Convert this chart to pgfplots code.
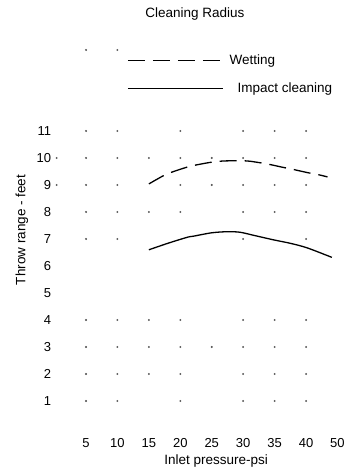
\documentclass[border=0pt]{standalone}
\usepackage{pgfplots}
\pgfplotsset{compat=1.18}
\usepackage{fontspec}
\setmainfont{Liberation Sans}
\newcommand{\cf}{\fontsize{13.5bp}{16bp}\selectfont}
\newcommand{\tf}{\fontsize{13bp}{15bp}\selectfont}
\pgfplotsset{longline/.style={legend image code/.code={\draw[##1] (0bp,0bp) -- (95bp,0bp);}}}
\begin{document}
\begin{tikzpicture}
\useasboundingbox (0,0) rectangle (358bp,471bp);
\begin{axis}[
  anchor=south west, at={(54.6bp,43bp)},
  x=6.286bp, y=27bp, scale only axis,
  xmin=0, xmax=46, ymin=0, ymax=14.5,
  clip=false,
  axis line style={draw=none},
  major tick length=0pt,
  xtick={5,10,15,20,25,30,35,40,45},
  xticklabels={5,10,15,20,25,30,35,40,50},
  ytick={1,2,3,4,5,6,7,8,9,10,11},
  /pgf/number format/assume math mode=true,
  tick label style={font=\tf},
  xticklabel style={yshift=-7bp},
  xlabel={Inlet pressure-psi},
  xlabel style={font=\cf, at={(axis cs:25.7,-1.22)}, anchor=center},
  ylabel={Throw range - feet},
  ylabel style={font=\cf, at={(axis cs:-5.19,7.33)}, anchor=center},
  title={Cleaning Radius},
  title style={font=\cf, at={(axis cs:22.33,15.41)}, anchor=center, yshift=-8bp},
  legend style={draw=none, fill=none, inner sep=0pt, font=\cf,
    at={(axis cs:11.52,13.9)}, anchor=north west, row sep=13bp},
  legend cell align=left,
]
\addplot[only marks, mark=*, mark size=0.75bp, color=black!65, forget plot] coordinates {
(5,14)(10,14)
(5,11)(10,11)(20,11)(30,11)(35,11)(40,11)
(0.33,10)(5,10)(10,10)(15,10)(20,10)(25,10)(30,10)(35,10)(40,10)
(0.33,9)(5,9)(10,9)(20,9)(25,9)(30,9)(35,9)(40,9)
(5,8)(10,8)(15,8)(20,8)(30,8)(35,8)(40,8)
(5,7)(10,7)(30,7)(40,7)
(5,4)(10,4)(15,4)(20,4)(30,4)(35,4)(40,4)
(5,3)(10,3)(15,3)(20,3)(25,3)(30,3)(35,3)(40,3)
(5,2)(10,2)(15,2)(20,2)(30,2)(35,2)(40,2)
(5,1)(10,1)(20,1)(30,1)(35,1)(40,1)
};
\addplot[black, line width=1.3bp, smooth, dash pattern=on 17bp off 8bp, longline] coordinates {
(15,9.04)(17.2,9.33)(18.7,9.48)(21.2,9.67)(22.7,9.75)(25.1,9.85)(27,9.89)(30,9.9)(31.1,9.88)(33.8,9.78)(36.2,9.66)(37.5,9.6)(40.4,9.45)(42,9.38)(43.4,9.3)
};
\addlegendentry{\hspace{4bp}Wetting}
\addplot[black, line width=1.3bp, smooth, longline] coordinates {
(15,6.6)(18,6.84)(21.2,7.07)(22,7.1)(25,7.23)(27.5,7.27)(29.5,7.25)(31.6,7.14)(34.8,6.97)(37.5,6.84)(40.2,6.67)(44.1,6.32)
};
\addlegendentry{\hspace{12bp}Impact cleaning}
\end{axis}
\end{tikzpicture}
\end{document}
